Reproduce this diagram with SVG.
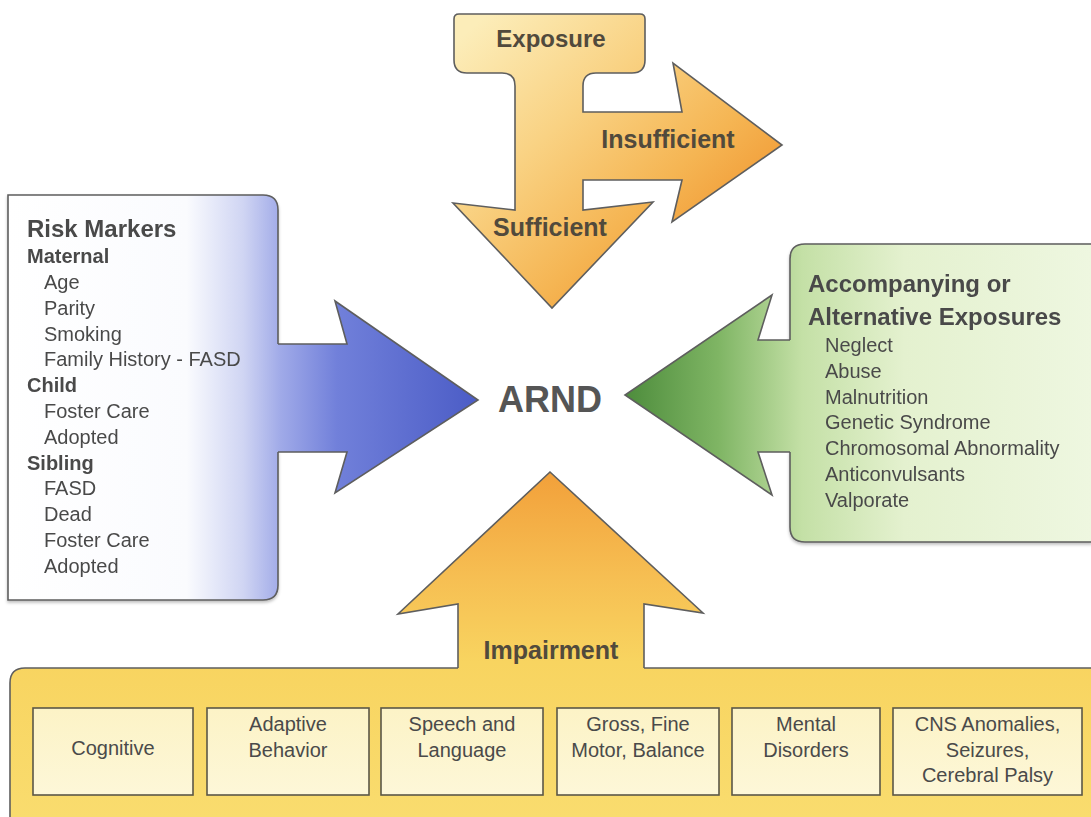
<svg xmlns="http://www.w3.org/2000/svg" width="1091" height="817" viewBox="0 0 1091 817">
<defs>
<linearGradient id="blue" gradientUnits="userSpaceOnUse" x1="8" y1="0" x2="478" y2="0">
<stop offset="0" stop-color="#ffffff"/>
<stop offset="0.38" stop-color="#fafbfe"/>
<stop offset="0.5" stop-color="#d0d5f3"/>
<stop offset="0.58" stop-color="#a0aae8"/>
<stop offset="0.7" stop-color="#7180da"/>
<stop offset="1" stop-color="#4b5cc6"/>
</linearGradient>
<linearGradient id="green" gradientUnits="userSpaceOnUse" x1="625" y1="0" x2="1091" y2="0">
<stop offset="0" stop-color="#4d8c3c"/>
<stop offset="0.2" stop-color="#7fb564"/>
<stop offset="0.38" stop-color="#c4e0a6"/>
<stop offset="0.6" stop-color="#e4f1cf"/>
<stop offset="1" stop-color="#eef7e0"/>
</linearGradient>
<linearGradient id="orange" gradientUnits="userSpaceOnUse" x1="480" y1="20" x2="700" y2="260">
<stop offset="0" stop-color="#fcedb9"/>
<stop offset="0.4" stop-color="#f9d283"/>
<stop offset="0.75" stop-color="#f5b553"/>
<stop offset="1" stop-color="#f19a35"/>
</linearGradient>
<linearGradient id="yellow" gradientUnits="userSpaceOnUse" x1="0" y1="472" x2="0" y2="817">
<stop offset="0" stop-color="#f2a03a"/>
<stop offset="0.3" stop-color="#f6be52"/>
<stop offset="0.55" stop-color="#f8d460"/>
<stop offset="1" stop-color="#f9dc6e"/>
</linearGradient>
<linearGradient id="cream" x1="0" y1="0" x2="0" y2="1">
<stop offset="0" stop-color="#fcf3c6"/>
<stop offset="1" stop-color="#fdf7d8"/>
</linearGradient>
<filter id="sh" x="-5%" y="-5%" width="110%" height="115%">
<feDropShadow dx="0" dy="2" stdDeviation="1.5" flood-color="#000" flood-opacity="0.25"/>
</filter>
</defs>
<style>
.ol{fill:none;stroke:#5e5e5e;stroke-width:1.6;stroke-linejoin:miter}
.t{font-family:"Liberation Sans",Arial,sans-serif;fill:#4a4a4a}
.body{font-size:20px}
.sub{font-size:20px;font-weight:bold}
.ttl{font-size:24px;font-weight:bold}
.lbl{font-size:25px;font-weight:bold;fill:#514a3c}
.ibox{fill:url(#cream);stroke:#5a5748;stroke-width:1.6}
.c{text-anchor:middle}
</style>

<!-- Nodes -->
<g id="risk-markers" filter="url(#sh)">
<path d="M8,195 H263 Q278,195 278,210 V585 Q278,600 263,600 H8 Z" fill="url(#blue)"/>
<path class="ol" d="M278,344 V210 Q278,195 263,195 H8 V600 H263 Q278,600 278,585 V452"/>
<text class="t ttl" x="27" y="237">Risk Markers</text>
<text class="t sub" x="27" y="263">Maternal</text>
<text class="t body" x="44" y="289">Age</text>
<text class="t body" x="44" y="314.8">Parity</text>
<text class="t body" x="44" y="340.6">Smoking</text>
<text class="t body" x="44" y="366.4">Family History - FASD</text>
<text class="t sub" x="27" y="392.2">Child</text>
<text class="t body" x="44" y="418">Foster Care</text>
<text class="t body" x="44" y="443.8">Adopted</text>
<text class="t sub" x="27" y="469.6">Sibling</text>
<text class="t body" x="44" y="495.4">FASD</text>
<text class="t body" x="44" y="521.2">Dead</text>
<text class="t body" x="44" y="547">Foster Care</text>
<text class="t body" x="44" y="572.8">Adopted</text>
</g>

<g id="accompanying-exposures" filter="url(#sh)">
<path d="M1092,244 H805 Q790,244 790,259 V527 Q790,542 805,542 H1092 Z" fill="url(#green)"/>
<path class="ol" d="M790,340 V259 Q790,244 805,244 H1092 M1092,542 H805 Q790,542 790,527 V452"/>
<text class="t ttl" x="808" y="292">Accompanying or</text>
<text class="t ttl" x="808" y="325">Alternative Exposures</text>
<text class="t body" x="825" y="352">Neglect</text>
<text class="t body" x="825" y="377.8">Abuse</text>
<text class="t body" x="825" y="403.6">Malnutrition</text>
<text class="t body" x="825" y="429.4">Genetic Syndrome</text>
<text class="t body" x="825" y="455.2">Chromosomal Abnormality</text>
<text class="t body" x="825" y="481">Anticonvulsants</text>
<text class="t body" x="825" y="506.8">Valporate</text>
</g>

<g id="exposure">
<path d="M459,14 H640 Q645,14 645,19 V60 Q645,73 632,73 H467 Q454,73 454,60 V19 Q454,14 459,14 Z" fill="url(#orange)"/>
<path class="ol" d="M502,73 H467 Q454,73 454,60 V19 Q454,14 459,14 H640 Q645,14 645,19 V60 Q645,73 632,73 H596"/>
<text class="t lbl c" x="551" y="47" style="font-size:24px">Exposure</text>
</g>

<g id="arnd">
<text class="t c" x="550" y="412" style="font-size:36px;font-weight:bold;fill:#555">ARND</text>
</g>

<g id="impairment">
<path d="M10,817 V683 Q10,668 25,668 H1092 V817 Z" fill="url(#yellow)"/>
<path class="ol" d="M10,817 V683 Q10,668 25,668 H458 M644,668 H1092"/>
</g>

<g id="box-cognitive"><rect class="ibox" x="33" y="708" width="160" height="87"/>
<text class="t body c" x="113" y="755">Cognitive</text></g>
<g id="box-adaptive"><rect class="ibox" x="207" y="708" width="162" height="87"/>
<text class="t body c" x="288" y="731">Adaptive</text><text class="t body c" x="288" y="756.5">Behavior</text></g>
<g id="box-speech"><rect class="ibox" x="381" y="708" width="162" height="87"/>
<text class="t body c" x="462" y="731">Speech and</text><text class="t body c" x="462" y="756.5">Language</text></g>
<g id="box-motor"><rect class="ibox" x="557" y="708" width="162" height="87"/>
<text class="t body c" x="638" y="731">Gross, Fine</text><text class="t body c" x="638" y="756.5">Motor, Balance</text></g>
<g id="box-mental"><rect class="ibox" x="732" y="708" width="148" height="87"/>
<text class="t body c" x="806" y="731">Mental</text><text class="t body c" x="806" y="756.5">Disorders</text></g>
<g id="box-cns"><rect class="ibox" x="893" y="708" width="189" height="87"/>
<text class="t body c" x="987.5" y="731">CNS Anomalies,</text><text class="t body c" x="987.5" y="756.5">Seizures,</text><text class="t body c" x="987.5" y="782">Cerebral Palsy</text></g>

<!-- Connectors (block arrows) -->
<g id="connectors">
<g id="arrow-risk">
<path d="M275,344 H347 L335,301 L478,400 L335,493 L347,452 H275 Z" fill="url(#blue)"/>
<path class="ol" d="M278,344 H347 L335,301 L478,400 L335,493 L347,452 H278"/>
</g>
<g id="arrow-accompanying">
<path d="M793,340 H758 L772,295 L625,395 L772,495 L758,452 H793 Z" fill="url(#green)"/>
<path class="ol" d="M790,340 H758 L772,295 L625,395 L772,495 L758,452 H790"/>
</g>
<g id="arrow-exposure">
<path d="M502,71 H596 V73 Q583,73 583,86 V112 H682 L673,63 L782,145 L672,222 L682,180 H583 V210 L653,202 L552,308 L453,203 L515,210 V86 Q515,73 502,73 Z" fill="url(#orange)"/>
<path class="ol" d="M502,73 Q515,73 515,86 V210 L453,203 L552,308 L653,202 L583,210 V180 H682 L672,222 L782,145 L673,63 L682,112 H583 V86 Q583,73 596,73"/>
<text class="t lbl c" x="668" y="148">Insufficient</text>
<text class="t lbl c" x="550" y="236">Sufficient</text>
</g>
<g id="arrow-impairment">
<path d="M458,671 V604 L398,614 L550,472 L703,613 L644,604 V671 Z" fill="url(#yellow)"/>
<path class="ol" d="M458,668 V604 L398,614 L550,472 L703,613 L644,604 V668"/>
<text class="t lbl c" x="551" y="659">Impairment</text>
</g>
</g>
</svg>
